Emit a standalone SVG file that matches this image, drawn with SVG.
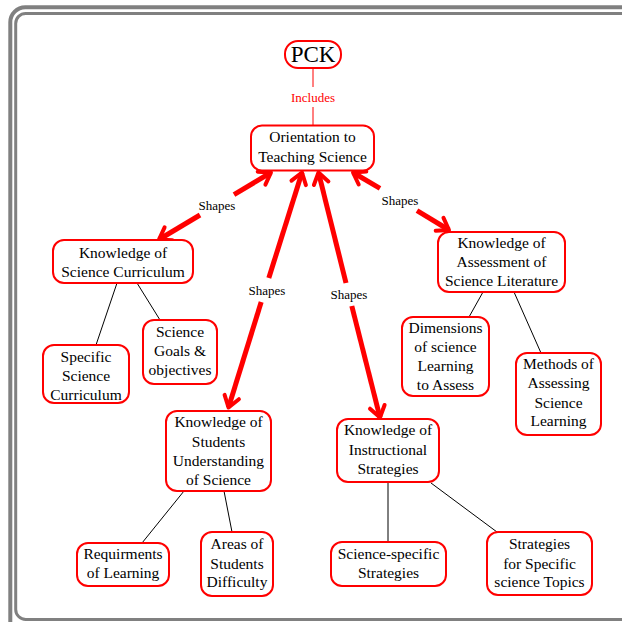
<svg xmlns="http://www.w3.org/2000/svg" width="622" height="622" viewBox="0 0 622 622">
  <rect width="622" height="622" fill="#ffffff"/>

  <!-- double grey page border -->
  <rect x="10.3" y="7.2" width="660" height="630" rx="15" fill="none" stroke="#808080" stroke-width="4"/>
  <rect x="15.7" y="13.4" width="660" height="606" rx="10" fill="none" stroke="#808080" stroke-width="3"/>

  <!-- connectors -->
  <g id="connectors">
    <!-- PCK includes orientation -->
    <g stroke="#ff0000" stroke-width="1" fill="none">
      <line x1="313" y1="68" x2="313" y2="87"/>
      <line x1="313" y1="107" x2="313" y2="126"/>
    </g>
    <text font-family="Liberation Serif, serif" font-size="13" text-anchor="middle" fill="#ff0000" x="313" y="101.5">Includes</text>

    <!-- thick "Shapes" links, each split around its label -->
    <g stroke="#ff0000" stroke-width="5" fill="none">
      <path d="M234,194.7 L271,172.5"/>
      <path d="M200,215 L159,239.5"/>
      <path d="M268.8,278 L302,172.5"/>
      <path d="M261.2,302 L228.5,407.5"/>
      <path d="M346,283 L318.5,172.5"/>
      <path d="M351.8,306 L380,417.5"/>
      <path d="M380,188.3 L353,172.5"/>
      <path d="M417,210.7 L449,230"/>
    </g>
    <!-- open chevron heads at both ends of each link -->
    <g stroke="#ff0000" stroke-width="4" fill="none" stroke-linecap="round" stroke-linejoin="round">
      <path d="M265.4,184.6 L271,172.5 L257.7,171.7"/>
      <path d="M172.3,240.3 L159,239.5 L164.6,227.4"/>
      <path d="M305.9,185.2 L302,172.5 L291.5,180.7"/>
      <path d="M238.9,399.2 L228.5,407.5 L224.6,394.8"/>
      <path d="M328.4,181.4 L318.5,172.5 L313.9,185"/>
      <path d="M384.6,405 L380,417.5 L370,408.7"/>
      <path d="M366.3,171.6 L353,172.5 L358.7,184.5"/>
      <path d="M443.5,217.9 L449,230 L435.7,230.7"/>
    </g>
    <text font-family="Liberation Serif, serif" font-size="13" text-anchor="middle" fill="#000" x="217" y="209.5">Shapes</text>
    <text font-family="Liberation Serif, serif" font-size="13" text-anchor="middle" fill="#000" x="267" y="294.5">Shapes</text>
    <text font-family="Liberation Serif, serif" font-size="13" text-anchor="middle" fill="#000" x="349" y="299">Shapes</text>
    <text font-family="Liberation Serif, serif" font-size="13" text-anchor="middle" fill="#000" x="400" y="204.5">Shapes</text>

    <!-- plain sub-links -->
    <g stroke="#000" stroke-width="1" fill="none">
      <line x1="117" y1="283" x2="96" y2="345"/>
      <line x1="137" y1="283" x2="160" y2="320"/>
      <line x1="483" y1="292" x2="469" y2="317"/>
      <line x1="514" y1="292" x2="541" y2="353"/>
      <line x1="184" y1="491" x2="142" y2="543"/>
      <line x1="224" y1="491" x2="232" y2="532"/>
      <line x1="388" y1="482" x2="388" y2="542"/>
      <line x1="431" y1="483" x2="497" y2="532"/>
    </g>
  </g>

  <g id="pck">
    <rect x="285" y="41" width="56" height="27" rx="13" fill="#fff" stroke="#ff0000" stroke-width="2"/>
    <text font-family="Liberation Serif, serif" font-size="23" text-anchor="middle" x="313" y="62">PCK</text>
  </g>

  <g id="orientation">
    <rect x="251" y="125.5" width="123" height="45" rx="11" fill="#fff" stroke="#ff0000" stroke-width="2"/>
    <text font-family="Liberation Serif, serif" font-size="15.5" text-anchor="middle" x="312.5" y="142">Orientation to</text>
    <text font-family="Liberation Serif, serif" font-size="15.5" text-anchor="middle" x="312.5" y="162">Teaching Science</text>
  </g>

  <g id="curriculum">
    <rect x="53" y="240" width="140" height="43" rx="11" fill="#fff" stroke="#ff0000" stroke-width="2"/>
    <text font-family="Liberation Serif, serif" font-size="15.5" text-anchor="middle" x="123" y="258">Knowledge of</text>
    <text font-family="Liberation Serif, serif" font-size="15.5" text-anchor="middle" x="123" y="277">Science Curriculum</text>
  </g>

  <g id="specific-curriculum">
    <rect x="43" y="345" width="86" height="58" rx="11" fill="#fff" stroke="#ff0000" stroke-width="2"/>
    <text font-family="Liberation Serif, serif" font-size="15.5" text-anchor="middle" x="86" y="362">Specific</text>
    <text font-family="Liberation Serif, serif" font-size="15.5" text-anchor="middle" x="86" y="381">Science</text>
    <text font-family="Liberation Serif, serif" font-size="15.5" text-anchor="middle" x="86" y="400">Curriculum</text>
  </g>

  <g id="goals">
    <rect x="143" y="320" width="74" height="64" rx="11" fill="#fff" stroke="#ff0000" stroke-width="2"/>
    <text font-family="Liberation Serif, serif" font-size="15.5" text-anchor="middle" x="180" y="337">Science</text>
    <text font-family="Liberation Serif, serif" font-size="15.5" text-anchor="middle" x="180" y="356">Goals &amp;</text>
    <text font-family="Liberation Serif, serif" font-size="15.5" text-anchor="middle" x="180" y="375">objectives</text>
  </g>

  <g id="assessment">
    <rect x="438" y="232" width="127" height="60" rx="11" fill="#fff" stroke="#ff0000" stroke-width="2"/>
    <text font-family="Liberation Serif, serif" font-size="15.5" text-anchor="middle" x="501.5" y="248">Knowledge of</text>
    <text font-family="Liberation Serif, serif" font-size="15.5" text-anchor="middle" x="501.5" y="267">Assessment of</text>
    <text font-family="Liberation Serif, serif" font-size="15.5" text-anchor="middle" x="501.5" y="286">Science Literature</text>
  </g>

  <g id="dimensions">
    <rect x="402" y="317" width="87" height="79" rx="11" fill="#fff" stroke="#ff0000" stroke-width="2"/>
    <text font-family="Liberation Serif, serif" font-size="15.5" text-anchor="middle" x="445.5" y="333">Dimensions</text>
    <text font-family="Liberation Serif, serif" font-size="15.5" text-anchor="middle" x="445.5" y="352">of science</text>
    <text font-family="Liberation Serif, serif" font-size="15.5" text-anchor="middle" x="445.5" y="371">Learning</text>
    <text font-family="Liberation Serif, serif" font-size="15.5" text-anchor="middle" x="445.5" y="390">to Assess</text>
  </g>

  <g id="methods">
    <rect x="516" y="353" width="85" height="82" rx="11" fill="#fff" stroke="#ff0000" stroke-width="2"/>
    <text font-family="Liberation Serif, serif" font-size="15.5" text-anchor="middle" x="558.5" y="369">Methods of</text>
    <text font-family="Liberation Serif, serif" font-size="15.5" text-anchor="middle" x="558.5" y="388">Assessing</text>
    <text font-family="Liberation Serif, serif" font-size="15.5" text-anchor="middle" x="558.5" y="407.5">Science</text>
    <text font-family="Liberation Serif, serif" font-size="15.5" text-anchor="middle" x="558.5" y="426">Learning</text>
  </g>

  <g id="students">
    <rect x="166" y="411" width="105" height="80" rx="11" fill="#fff" stroke="#ff0000" stroke-width="2"/>
    <text font-family="Liberation Serif, serif" font-size="15.5" text-anchor="middle" x="218.5" y="427">Knowledge of</text>
    <text font-family="Liberation Serif, serif" font-size="15.5" text-anchor="middle" x="218.5" y="446.5">Students</text>
    <text font-family="Liberation Serif, serif" font-size="15.5" text-anchor="middle" x="218.5" y="466">Understanding</text>
    <text font-family="Liberation Serif, serif" font-size="15.5" text-anchor="middle" x="218.5" y="484.5">of Science</text>
  </g>

  <g id="requirements">
    <rect x="77" y="543" width="92" height="43" rx="11" fill="#fff" stroke="#ff0000" stroke-width="2"/>
    <text font-family="Liberation Serif, serif" font-size="15.5" text-anchor="middle" x="123" y="558.5">Requirments</text>
    <text font-family="Liberation Serif, serif" font-size="15.5" text-anchor="middle" x="123" y="578">of Learning</text>
  </g>

  <g id="difficulty">
    <rect x="201" y="532" width="72" height="64" rx="11" fill="#fff" stroke="#ff0000" stroke-width="2"/>
    <text font-family="Liberation Serif, serif" font-size="15.5" text-anchor="middle" x="237" y="549">Areas of</text>
    <text font-family="Liberation Serif, serif" font-size="15.5" text-anchor="middle" x="237" y="568.5">Students</text>
    <text font-family="Liberation Serif, serif" font-size="15.5" text-anchor="middle" x="237" y="587">Difficulty</text>
  </g>

  <g id="instructional">
    <rect x="337" y="419" width="102" height="63" rx="11" fill="#fff" stroke="#ff0000" stroke-width="2"/>
    <text font-family="Liberation Serif, serif" font-size="15.5" text-anchor="middle" x="388" y="435">Knowledge of</text>
    <text font-family="Liberation Serif, serif" font-size="15.5" text-anchor="middle" x="388" y="455">Instructional</text>
    <text font-family="Liberation Serif, serif" font-size="15.5" text-anchor="middle" x="388" y="474">Strategies</text>
  </g>

  <g id="science-specific">
    <rect x="331" y="542" width="115" height="44" rx="11" fill="#fff" stroke="#ff0000" stroke-width="2"/>
    <text font-family="Liberation Serif, serif" font-size="15.5" text-anchor="middle" x="388.5" y="558.5">Science-specific</text>
    <text font-family="Liberation Serif, serif" font-size="15.5" text-anchor="middle" x="388.5" y="578">Strategies</text>
  </g>

  <g id="topic-strategies">
    <rect x="487" y="532" width="105" height="63" rx="11" fill="#fff" stroke="#ff0000" stroke-width="2"/>
    <text font-family="Liberation Serif, serif" font-size="15.5" text-anchor="middle" x="539.5" y="549">Strategies</text>
    <text font-family="Liberation Serif, serif" font-size="15.5" text-anchor="middle" x="539.5" y="568.5">for Specific</text>
    <text font-family="Liberation Serif, serif" font-size="15.5" text-anchor="middle" x="539.5" y="587">science Topics</text>
  </g>
</svg>
